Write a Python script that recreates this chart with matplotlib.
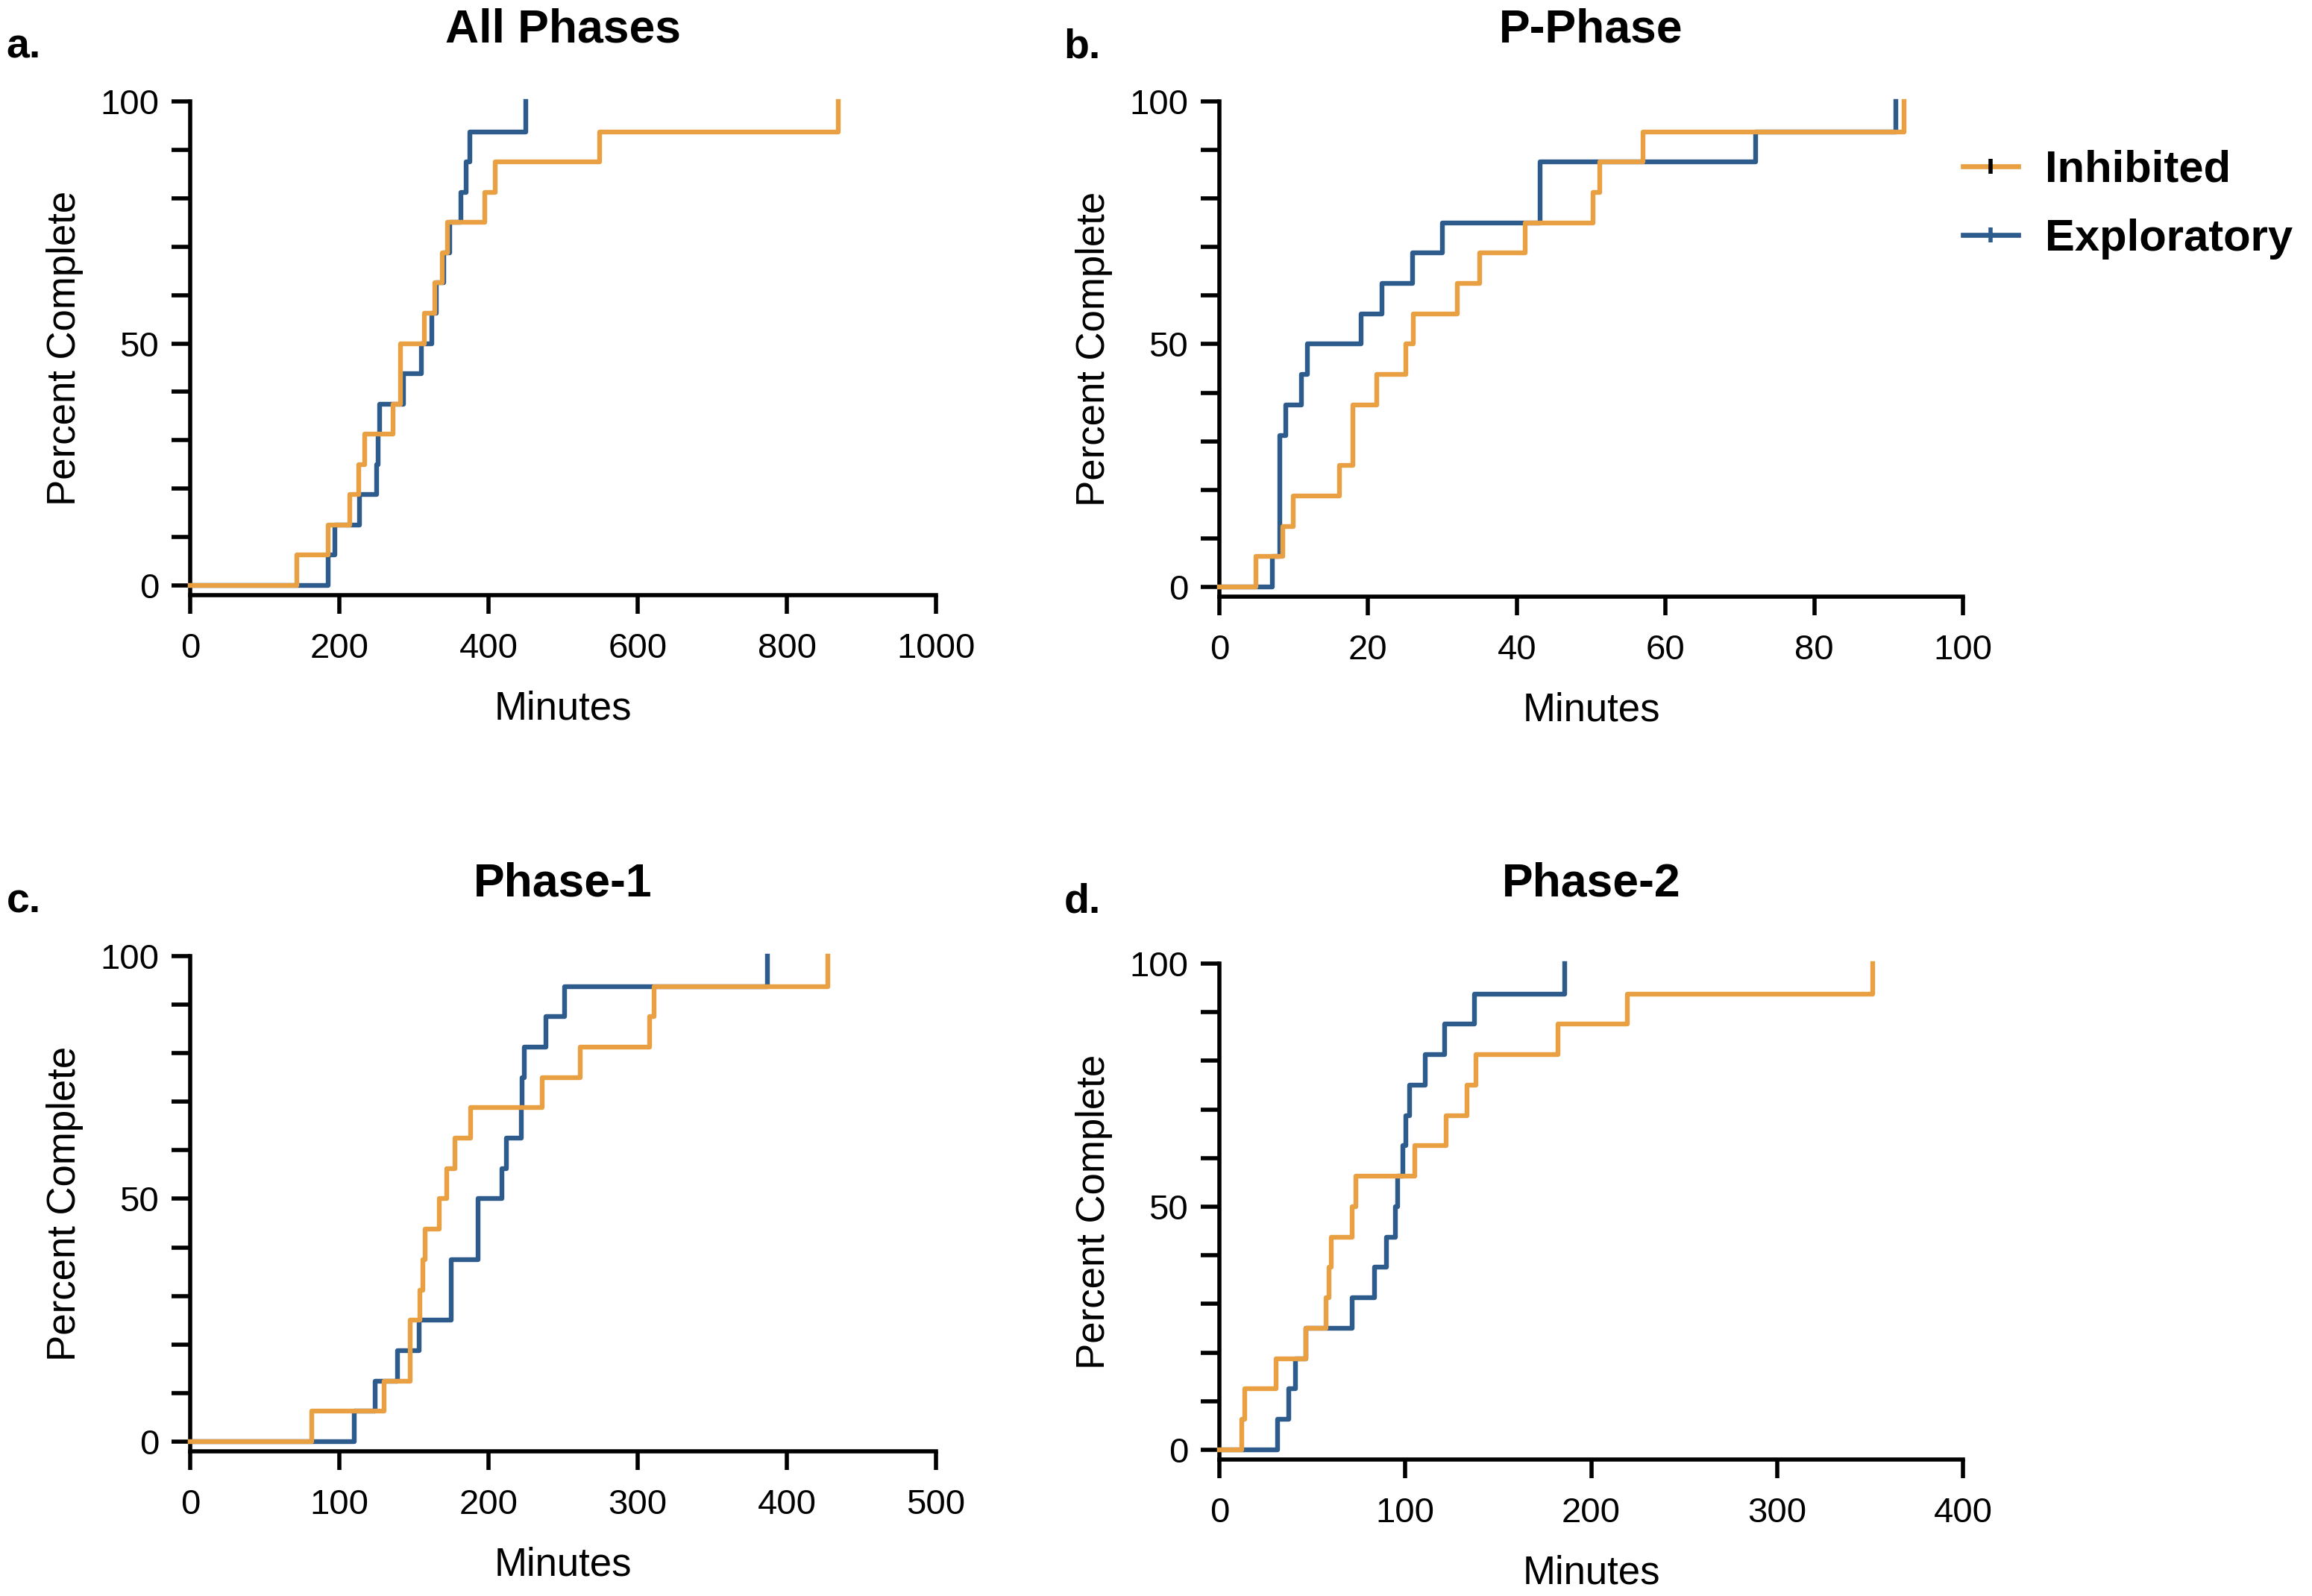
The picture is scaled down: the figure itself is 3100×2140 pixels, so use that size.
import numpy as np
import matplotlib.pyplot as plt
from matplotlib.lines import Line2D

plt.rcParams['font.family'] = ['Liberation Sans', 'DejaVu Sans']

# DATOS: tiempos (minutos) y porcentaje completado para cada grupo
pct = [6.25, 12.5, 18.75, 25, 31.25, 37.5, 43.75, 50,
       56.25, 62.5, 68.75, 75, 81.25, 87.5, 93.75, 100]

# a. All Phases
a_inh = [143, 185, 214, 226, 234, 272, 282, 282, 314, 328, 338, 345, 395, 409, 549, 869]
a_exp = [185, 194, 227, 250, 252, 254, 286, 310, 324, 330, 340, 348, 363, 370, 375, 450]

# b. P-Phase
b_inh = [4.9, 8.5, 9.9, 16.1, 18.0, 18.0, 21.2, 25.1, 26.1, 32.0, 35.0, 41.1, 50.3, 51.2, 57.0, 92.1]
b_exp = [7.1, 8.1, 8.1, 8.1, 8.1, 8.9, 11.0, 11.8, 19.1, 21.9, 26.0, 30.0, 43.1, 43.1, 72.1, 91.0]

# c. Phase-1
c_inh = [81.6, 130, 147.6, 147.6, 154, 156, 157.5, 167, 172, 177.6, 188, 236, 261.6, 308, 311, 427.6]
c_exp = [109.8, 124, 138.8, 153.6, 175, 175, 192.8, 192.8, 209, 212, 221.8, 222.5, 224.2, 238.3, 251, 387]

# d. Phase-2
d_inh = [12.1, 13.5, 30.5, 46.5, 57.3, 59, 60.1, 71.4, 73.3, 105.2, 122.1, 133.4, 138, 182, 219.5, 351.5]
d_exp = [31.3, 37.5, 40.9, 46.5, 71.4, 83.5, 89.7, 94.5, 96, 98.7, 100.4, 102.4, 110.9, 121.3, 137.1, 185.6]

titulos = ['All Phases', 'P-Phase', 'Phase-1', 'Phase-2']
letras = ['a.', 'b.', 'c.', 'd.']
xmax = [1000, 100, 500, 400]
xpaso = [200, 20, 100, 100]
series = [(a_inh, a_exp), (b_inh, b_exp), (c_inh, c_exp), (d_inh, d_exp)]

naranja = '#E8A043'
azul = '#2C5B8C'

W, H = 3100, 2140
fig = plt.figure(figsize=(15.5, 10.7), dpi=200)

# posiciones en pixeles: izquierda, derecha, arriba (y=100), eje x
cajas = [(255, 1255, 136, 798), (1635, 2632, 136, 800),
         (255, 1255, 1282, 1946), (1635, 2632, 1292, 1957)]

for i, ax_box in enumerate(cajas):
    l, r, t, b = ax_box
    ax = fig.add_axes([l / W, 1 - b / H, (r - l) / W, (b - t) / H])
    inh, exp = series[i]
    for tiempos, color in [(exp, azul), (inh, naranja)]:
        xs = [0] + list(tiempos)
        ys = [0] + pct
        ax.step(xs, ys, where='post', color=color, lw=2.3, clip_on=False, zorder=3)
    ax.set_xlim(0, xmax[i])
    ax.set_ylim(-2, 100)
    ax.set_xticks(np.arange(0, xmax[i] + 1, xpaso[i]))
    ax.set_yticks(np.arange(0, 101, 10))
    ax.set_yticklabels(['0' if v == 0 else ('50' if v == 50 else ('100' if v == 100 else '')) for v in range(0, 101, 10)])
    ax.spines['top'].set_visible(False)
    ax.spines['right'].set_visible(False)
    for s in ['left', 'bottom']:
        ax.spines[s].set_linewidth(2.0)
    ax.tick_params(width=2.0, length=9, labelsize=17, direction='out', pad=6)
    ax.tick_params(axis='x', pad=9)
    ax.set_xlabel('Minutes', fontsize=19, labelpad=12)
    ax.set_ylabel('Percent Complete', fontsize=19, labelpad=8)
    cx = (l + r) / 2
    ty = 40 if i < 2 else 1185
    fig.text(cx / W, 1 - ty / H, titulos[i], fontsize=22.5, fontweight='bold', ha='center', va='center')
    fig.text((32 if i % 2 == 0 else 1451) / W, 1 - (ty + 24) / H, letras[i],
             fontsize=20, fontweight='bold', ha='center', va='center')

# LEYENDA
manejadores = [Line2D([0], [0], color=naranja, lw=2.4, marker='|', markersize=7,
                      markeredgecolor='black', markeredgewidth=2),
               Line2D([0], [0], color=azul, lw=2.4, marker='|', markersize=7,
                      markeredgecolor=azul, markeredgewidth=2)]
leg = fig.legend(manejadores, ['Inhibited', 'Exploratory'], loc='center left',
                 bbox_to_anchor=(2578 / W, 1 - 274 / H), frameon=False,
                 prop={'size': 21.5, 'weight': 'bold'}, handlelength=1.25,
                 handletextpad=0.6, labelspacing=0.62)

fig.savefig('out.png', dpi=200)
